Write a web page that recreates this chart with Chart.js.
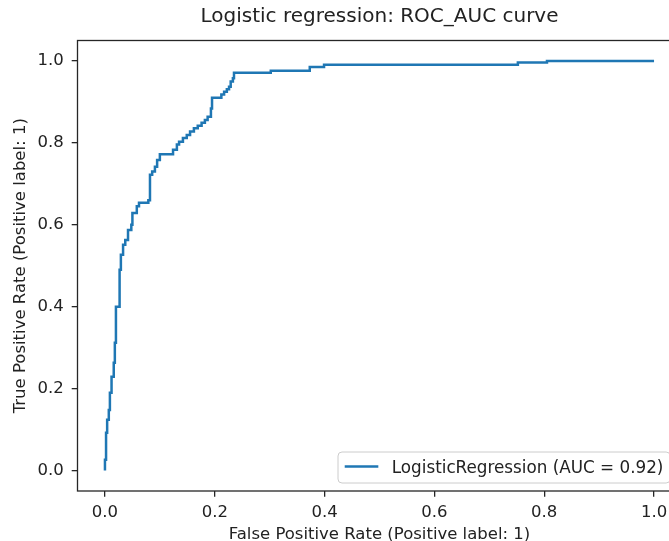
<!DOCTYPE html>
<html>
<head>
<meta charset="utf-8">
<script src="https://cdn.jsdelivr.net/npm/chart.js@4"></script>
<style>
  html, body { margin: 0; padding: 0; background: #fff; overflow: hidden; }
  #wrap { width: 700px; height: 541px; }
</style>
</head>
<body>
<div id="wrap"><canvas id="c" width="700" height="541"></canvas></div>
<script>
const chartTitle = "Logistic regression: ROC_AUC curve";
const xLabel = "False Positive Rate (Positive label: 1)";
const yLabel = "True Positive Rate (Positive label: 1)";
const seriesLabel = "LogisticRegression (AUC = 0.92)";
const xTicks = [0.0, 0.2, 0.4, 0.6, 0.8, 1.0];
const yTicks = [0.0, 0.2, 0.4, 0.6, 0.8, 1.0];

const fpr = [0, 0, 0.002, 0.002, 0.004, 0.004, 0.007, 0.007, 0.009, 0.009, 0.012, 0.012,
  0.016, 0.016, 0.018, 0.018, 0.020, 0.020, 0.026, 0.026, 0.027, 0.027, 0.029, 0.029,
  0.033, 0.033, 0.037, 0.037, 0.042, 0.042, 0.048, 0.048, 0.050, 0.050, 0.055, 0.055,
  0.058, 0.058, 0.062, 0.062, 0.079, 0.079, 0.082, 0.082, 0.086, 0.086, 0.091, 0.091,
  0.095, 0.095, 0.100, 0.100, 0.124, 0.124, 0.131, 0.131, 0.135, 0.135, 0.142, 0.142,
  0.149, 0.149, 0.155, 0.155, 0.162, 0.162, 0.169, 0.169, 0.176, 0.176, 0.182, 0.182,
  0.187, 0.187, 0.193, 0.193, 0.195, 0.195, 0.212, 0.212, 0.217, 0.217, 0.222, 0.222,
  0.226, 0.226, 0.229, 0.229, 0.233, 0.233, 0.235, 0.235, 0.302, 0.302, 0.373, 0.373,
  0.399, 0.399, 0.752, 0.752, 0.805, 0.805, 1.0];
const tpr = [0, 0.026, 0.026, 0.092, 0.092, 0.124, 0.124, 0.148, 0.148, 0.190, 0.190, 0.229,
  0.229, 0.263, 0.263, 0.312, 0.312, 0.400, 0.400, 0.453, 0.453, 0.490, 0.490, 0.527,
  0.527, 0.551, 0.551, 0.563, 0.563, 0.587, 0.587, 0.600, 0.600, 0.629, 0.629, 0.629,
  0.629, 0.645, 0.645, 0.654, 0.654, 0.660, 0.660, 0.722, 0.722, 0.730, 0.730, 0.742,
  0.742, 0.758, 0.758, 0.772, 0.772, 0.783, 0.783, 0.796, 0.796, 0.803, 0.803, 0.812,
  0.812, 0.819, 0.819, 0.828, 0.828, 0.836, 0.836, 0.842, 0.842, 0.849, 0.849, 0.856,
  0.856, 0.864, 0.864, 0.884, 0.884, 0.910, 0.910, 0.918, 0.918, 0.925, 0.925, 0.931,
  0.931, 0.937, 0.937, 0.950, 0.950, 0.958, 0.958, 0.971, 0.971, 0.976, 0.976, 0.985,
  0.985, 0.991, 0.991, 0.996, 0.996, 1.0, 1.0];

const points = fpr.map((x, i) => ({ x: x, y: tpr[i] }));

const FONT = "'DejaVu Sans', sans-serif";
const TXT = '#222';
const SPINE = '#262626';
const LINE = '#1f77b4';

const framePlugin = {
  id: 'frame',
  afterDraw(chart) {
    const { ctx, chartArea: a } = chart;
    ctx.save();
    ctx.strokeStyle = SPINE;
    ctx.lineWidth = 1.3;
    ctx.strokeRect(a.left, a.top, a.right - a.left, a.bottom - a.top);
    // legend (lower right, matplotlib style)
    const fs = 16.8;
    ctx.font = fs + "px " + FONT;
    const label = chart.data.datasets[0].label;
    const tw = ctx.measureText(label).width;
    const pad = 0.4 * fs, hl = 2.0 * fs, htp = 0.8 * fs;
    const h = 31;
    const w = 2 * pad + hl + htp + tw;
    const bx = 338;
    const by = a.bottom - 8 - h;
    ctx.beginPath();
    if (ctx.roundRect) ctx.roundRect(bx, by, w, h, 4); else ctx.rect(bx, by, w, h);
    ctx.fillStyle = 'rgba(255,255,255,0.8)';
    ctx.fill();
    ctx.strokeStyle = '#cccccc';
    ctx.lineWidth = 1;
    ctx.stroke();
    const cy = by + h / 2;
    ctx.beginPath();
    ctx.moveTo(bx + pad, cy - 1);
    ctx.lineTo(bx + pad + hl, cy - 1);
    ctx.strokeStyle = LINE;
    ctx.lineWidth = 2.5;
    ctx.stroke();
    ctx.fillStyle = TXT;
    ctx.textBaseline = 'middle';
    ctx.textAlign = 'left';
    ctx.fillText(label, bx + pad + hl + htp, cy + 1);
    ctx.restore();
  }
};

new Chart(document.getElementById('c'), {
  type: 'scatter',
  data: {
    datasets: [{
      label: seriesLabel,
      data: points,
      showLine: true,
      borderColor: LINE,
      backgroundColor: LINE,
      borderWidth: 2.5,
      pointRadius: 0,
      pointHoverRadius: 0,
      tension: 0,
      fill: false
    }]
  },
  options: {
    responsive: false,
    devicePixelRatio: 1,
    animation: false,
    layout: { padding: { left: 0, right: 18.5, top: 0, bottom: 0 } },
    plugins: {
      legend: { display: false },
      tooltip: { enabled: false },
      title: {
        display: true,
        text: chartTitle,
        fullSize: false,
        color: TXT,
        font: { family: FONT, size: 20, weight: 'normal', lineHeight: 1.2 },
        padding: { top: 5, bottom: 11.5 }
      }
    },
    scales: {
      x: {
        type: 'linear',
        min: -0.05,
        max: 1.05,
        afterBuildTicks: (s) => { s.ticks = xTicks.map(v => ({ value: v })); },
        afterFit: (s) => { s.height = 50; },
        grid: { display: true, drawOnChartArea: false, drawTicks: true, tickLength: 5.8, tickColor: SPINE, lineWidth: 1.3 },
        border: { display: false },
        ticks: {
          color: TXT,
          font: { family: FONT, size: 16.5 },
          padding: 6,
          maxRotation: 0,
          callback: (v) => Number(v).toFixed(1)
        },
        title: {
          display: true,
          text: xLabel,
          color: TXT,
          font: { family: FONT, size: 16.5, lineHeight: 1.2 },
          padding: { top: 0, bottom: -4 }
        }
      },
      y: {
        type: 'linear',
        min: -0.05,
        max: 1.05,
        afterBuildTicks: (s) => { s.ticks = yTicks.map(v => ({ value: v })); },
        afterFit: (s) => { s.width = 77.5; },
        grid: { display: true, drawOnChartArea: false, drawTicks: true, tickLength: 5.8, tickColor: SPINE, lineWidth: 1.3 },
        border: { display: false },
        ticks: {
          color: TXT,
          font: { family: FONT, size: 16.5 },
          padding: 8,
          callback: (v) => Number(v).toFixed(1)
        },
        title: {
          display: true,
          text: yLabel,
          color: TXT,
          font: { family: FONT, size: 16.5, lineHeight: 1.2 },
          padding: { top: 11, bottom: 0 }
        }
      }
    }
  },
  plugins: [framePlugin]
});
</script>
</body>
</html>
